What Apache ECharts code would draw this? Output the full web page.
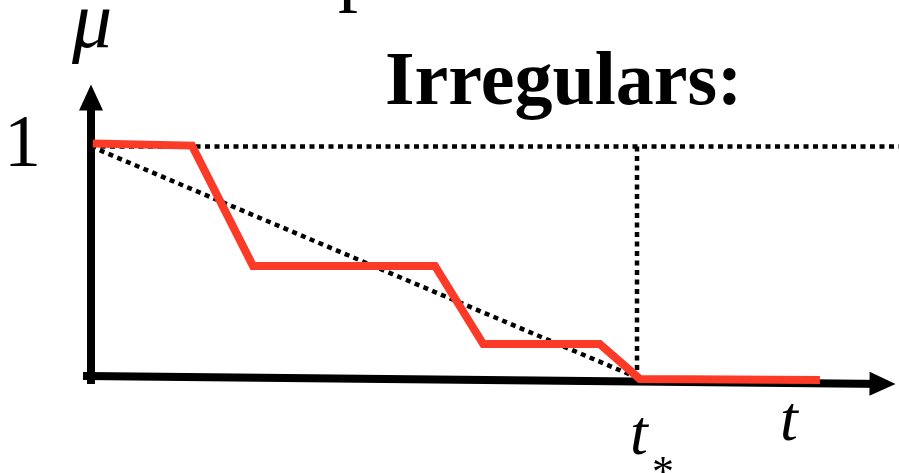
<!DOCTYPE html>
<html>
<head>
<meta charset="utf-8">
<title>Irregulars</title>
<script src="https://cdn.jsdelivr.net/npm/echarts@6/dist/echarts.min.js"></script>
<style>
  html, body { margin: 0; padding: 0; background: #fff; }
  #chart { width: 899px; height: 473px; }
</style>
</head>
<body>
<div id="chart"></div>
<script>
// red curve (t, mu)
var redT  = [0.02, 1.11, 1.78, 3.78, 4.31, 5.59, 6.03, 8.01];
var redMu = [1.013, 1.004, 0.483, 0.483, 0.145, 0.145, -0.006, -0.011];

// dotted guides
var tStar = 6;
var hGuideT = [0, 8.88];
var hGuideMu = [1, 1];
var vGuideT = [tStar, tStar];
var vGuideMu = [1, 0];
var diagT = [0, tStar];
var diagMu = [1, 0];

// axis shafts and arrow heads
var yAxisT = [0, 0];
var yAxisMu = [-0.011, 1.2];
var xAxisT = [-0.044, 8.69];
var xAxisMu = [0.006, -0.028];
var arrowT = [0, 8.698];
var arrowMu = [1.212, -0.028];
var arrowRot = [0, -90.6];

function pairs(xs, ys) {
  var out = [];
  for (var i = 0; i < xs.length; i++) out.push([xs[i], ys[i]]);
  return out;
}

var chart = echarts.init(document.getElementById('chart'));

var dotted = {color: '#000', width: 4.5, type: [5, 4.5], cap: 'butt'};
function guide(xs, ys) {
  return {
    type: 'line', data: pairs(xs, ys), symbol: 'none', silent: true, z: 3,
    lineStyle: dotted
  };
}

var serif = '"Liberation Serif", "DejaVu Serif", serif';
function label(txt, x, y, size, weight, italic) {
  return {
    type: 'text', x: x, y: y, z: 10,
    style: {
      text: txt, fill: '#000', textVerticalAlign: 'middle',
      font: (italic ? 'italic ' : '') + (weight || 'normal') + ' ' + size + 'px ' + serif
    }
  };
}

chart.setOption({
  animation: false,
  grid: {left: 0, right: 0, top: 0, bottom: 0},
  xAxis: {type: 'value', min: -1, max: 8.879, show: false},
  yAxis: {type: 'value', min: -0.4134, max: 1.6342, show: false},
  series: [
    {
      type: 'line', data: pairs(yAxisT, yAxisMu), symbol: 'none', silent: true, z: 2,
      lineStyle: {color: '#000', width: 8, cap: 'square'}
    },
    {
      type: 'line', data: pairs(xAxisT, xAxisMu), symbol: 'none', silent: true, z: 2,
      lineStyle: {color: '#000', width: 8, cap: 'square'}
    },
    {
      type: 'scatter', silent: true, z: 2,
      data: arrowT.map(function (t, i) {
        return {value: [t, arrowMu[i]], symbolRotate: arrowRot[i]};
      }),
      symbol: 'triangle', symbolSize: [24, 26],
      itemStyle: {color: '#000', opacity: 1}
    },
    guide(hGuideT, hGuideMu),
    guide(vGuideT, vGuideMu),
    guide(diagT, diagMu),
    {
      type: 'line', data: pairs(redT, redMu), symbol: 'none', silent: true, z: 5,
      lineStyle: {color: '#fc3a28', width: 8, join: 'miter'}
    }
  ],
  graphic: [
    label('p', 338, -25, 80),
    label('\u03bc', 72, 26, 80, 'normal', true),
    label('1', 4, 147, 74),
    label('Irregulars:', 385, 84, 76, 'bold'),
    label('t', 780, 423, 64, 'normal', true),
    label('t', 630, 437, 64, 'normal', true),
    label('*', 652, 474, 44)
  ]
});
</script>
</body>
</html>
